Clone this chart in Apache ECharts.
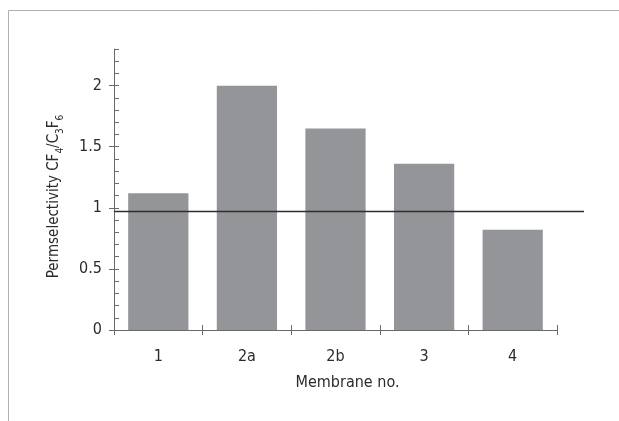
<!DOCTYPE html>
<html>
<head>
<meta charset="utf-8">
<script src="https://cdn.jsdelivr.net/npm/echarts@6/dist/echarts.min.js"></script>
<style>
  html, body { margin: 0; padding: 0; background: #fff; }
  #chart { width: 619px; height: 421px; }
</style>
</head>
<body>
<div id="chart"></div>
<script>
// Membrane permselectivity data
const membranes = ['1', '2a', '2b', '3', '4'];
const permselectivity = [1.12, 2.0, 1.65, 1.36, 0.82];
const referenceLevel = [0.97];
const yTickValues = [0, 0.5, 1, 1.5, 2];

const FONT = '"Liberation Sans Narrow", "DejaVu Sans Condensed", "Arial Narrow", sans-serif';
const AXIS_COLOR = '#6a6a6a';
const TEXT_COLOR = '#2b2b2b';

const chart = echarts.init(document.getElementById('chart'), null, { renderer: 'canvas' });

const option = {
  backgroundColor: '#ffffff',
  animation: false,
  textStyle: { fontFamily: FONT },
  graphic: [
    {
      type: 'rect',
      shape: { x: 8.5, y: 10.5, width: 700, height: 600 },
      style: { fill: 'none', stroke: '#b0b0b0', lineWidth: 1 },
      silent: true
    }
  ],
  grid: [
    { left: 114, right: 62, top: 49, bottom: 91, containLabel: false },
    { left: 114, right: 35, top: 49, bottom: 91, containLabel: false }
  ],
  xAxis: [
    {
      type: 'category',
      gridIndex: 0,
      position: 'bottom',
      data: membranes,
      name: 'Membrane no.',
      nameLocation: 'middle',
      nameGap: 45,
      nameTextStyle: { fontFamily: FONT, fontSize: 16, color: TEXT_COLOR, padding: [0, 0, 0, 24] },
      axisLine: { show: true, lineStyle: { color: AXIS_COLOR, width: 1 } },
      axisTick: { show: true, length: 5, lineStyle: { color: AXIS_COLOR } },
      axisLabel: { fontFamily: FONT, fontSize: 16, color: TEXT_COLOR, margin: 19 },
      splitLine: { show: false }
    },
    {
      type: 'category',
      gridIndex: 0,
      position: 'bottom',
      data: membranes,
      axisLine: { show: false },
      axisTick: { show: true, inside: true, length: 5, lineStyle: { color: AXIS_COLOR } },
      axisLabel: { show: false },
      splitLine: { show: false }
    },
    {
      type: 'value',
      gridIndex: 1,
      min: 0,
      max: 1,
      show: false
    }
  ],
  yAxis: [
    {
      // minor ticks every 0.1, drawn on the inside
      type: 'value',
      gridIndex: 0,
      position: 'left',
      min: 0,
      max: 2.3,
      interval: 0.1,
      axisLine: { show: true, lineStyle: { color: AXIS_COLOR, width: 1 } },
      axisTick: { show: true, inside: true, length: 5, lineStyle: { color: AXIS_COLOR } },
      axisLabel: { show: false },
      splitLine: { show: false }
    },
    {
      // major ticks and labels
      type: 'value',
      gridIndex: 0,
      position: 'left',
      min: 0,
      max: 2.3,
      interval: 0.5,
      name: '{m|Permselectivity CF}{s|4}{m|/C}{s|3}{m|F}{s|6}',
      nameLocation: 'middle',
      nameGap: 49,
      nameRotate: 90,
      nameTextStyle: {
        fontFamily: FONT,
        fontSize: 15,
        color: TEXT_COLOR,
        padding: [0, 14, 0, 0],
        rich: {
          m: { fontFamily: FONT, fontSize: 15, color: TEXT_COLOR, lineHeight: 22 },
          s: { fontFamily: FONT, fontSize: 10, color: TEXT_COLOR, lineHeight: 11, verticalAlign: 'bottom' }
        }
      },
      axisLine: { show: false },
      axisTick: { show: true, inside: false, length: 5, lineStyle: { color: AXIS_COLOR } },
      axisLabel: {
        fontFamily: FONT,
        fontSize: 16,
        color: TEXT_COLOR,
        margin: 12,
        showMaxLabel: false,
        formatter: function (v) {
          return yTickValues.some(t => Math.abs(t - v) < 1e-6) ? String(v) : '';
        }
      },
      splitLine: { show: false }
    },
    {
      type: 'value',
      gridIndex: 1,
      min: 0,
      max: 2.3,
      show: false
    }
  ],
  series: [
    {
      type: 'bar',
      xAxisIndex: 0,
      yAxisIndex: 0,
      data: permselectivity,
      barCategoryGap: '32%',
      itemStyle: { color: '#949598' },
      silent: true
    },
    {
      type: 'line',
      xAxisIndex: 2,
      yAxisIndex: 2,
      data: [[0, referenceLevel[0]], [1, referenceLevel[0]]],
      symbol: 'none',
      lineStyle: { color: '#2e2e2e', width: 1.5 },
      silent: true,
      z: 5
    }
  ]
};

chart.setOption(option);
</script>
</body>
</html>
